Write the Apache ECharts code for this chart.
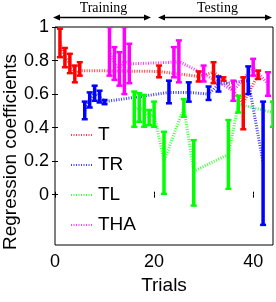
<!DOCTYPE html>
<html>
<head>
<meta charset="utf-8">
<script src="https://cdn.jsdelivr.net/npm/echarts@6/dist/echarts.min.js"></script>
<style>
html, body { margin: 0; padding: 0; background: #fff; }
#main { width: 276px; height: 302px; }
</style>
</head>
<body>
<div id="main"></div>
<script>
// T
var tX = [1, 2, 3, 4, 5, 21, 29, 32, 34, 38, 41];
var tMean = [0.905, 0.82, 0.78, 0.72, 0.74, 0.735, 0.705, 0.73, 0.69, 0.545, 0.715];
var tLo = [0.82, 0.76, 0.725, 0.67, 0.71, 0.70, 0.675, 0.665, 0.68, 0.39, 0.69];
var tHi = [0.99, 0.875, 0.84, 0.77, 0.79, 0.77, 0.735, 0.79, 0.70, 0.70, 0.74];
// TR
var trX = [6, 7, 8, 9, 10, 23, 27, 31, 33, 39, 42];
var trMean = [0.50, 0.565, 0.605, 0.585, 0.555, 0.61, 0.61, 0.60, 0.66, 0.68, 0.19];
var trLo = [0.45, 0.52, 0.56, 0.55, 0.54, 0.545, 0.555, 0.565, 0.615, 0.60, -0.18];
var trHi = [0.555, 0.61, 0.65, 0.62, 0.565, 0.68, 0.67, 0.645, 0.705, 0.765, 0.555];
// TL
var tlX = [16, 17, 18, 19, 20, 22, 26, 28, 35, 37, 44];
var tlMean = [0.51, 0.52, 0.50, 0.46, 0.48, 0.20, 0.52, 0.14, 0.24, 0.54, 0.49];
var tlLo = [0.405, 0.435, 0.405, 0.415, 0.405, 0.005, 0.465, -0.065, 0.035, 0.49, 0.405];
var tlHi = [0.615, 0.605, 0.595, 0.505, 0.555, 0.375, 0.57, 0.325, 0.445, 0.59, 0.555];
// THA
var thaX = [11, 12, 13, 14, 15, 24, 25, 30, 36, 40, 43];
var thaMean = [0.855, 0.78, 0.75, 0.80, 0.78, 0.79, 0.795, 0.72, 0.62, 0.76, 0.66];
var thaLo = [0.71, 0.685, 0.65, 0.60, 0.665, 0.70, 0.67, 0.675, 0.56, 0.71, 0.59];
var thaHi = [1.0, 0.88, 0.85, 1.0, 0.90, 0.88, 0.92, 0.77, 0.68, 0.81, 0.73];

var xTicks = [0, 20, 40];
var yTicks = [0, 0.2, 0.4, 0.6, 0.8, 1];

var groups = [
	{ name: 'T', color: '#ff0000', x: tX, mean: tMean, lo: tLo, hi: tHi },
	{ name: 'TR', color: '#0000ff', x: trX, mean: trMean, lo: trLo, hi: trHi },
	{ name: 'TL', color: '#00ff00', x: tlX, mean: tlMean, lo: tlLo, hi: tlHi },
	{ name: 'THA', color: '#ff00ff', x: thaX, mean: thaMean, lo: thaLo, hi: thaHi }
];

var font = '"Liberation Sans", Arial, sans-serif';
var series = [];
// 均值虚线
groups.forEach(function(g) {
	var pts = [];
	for (var i = 0; i < g.x.length; i++) pts.push([g.x[i], g.mean[i]]);
	series.push({
		name: g.name,
		type: 'line',
		data: pts,
		symbol: 'none',
		z: 2,
		color: g.color,
		lineStyle: { color: g.color, width: 3, type: [1, 1.5], opacity: 0.75 }
	});
});
// 误差棒
groups.forEach(function(g) {
	var d = [];
	for (var i = 0; i < g.x.length; i++) d.push([g.x[i], g.lo[i], g.hi[i]]);
	series.push({
		name: g.name + '_err',
		type: 'custom',
		z: 3,
		silent: true,
		clip: true,
		data: d,
		encode: { x: 0, y: [1, 2] },
		renderItem: function(params, api) {
			var a = api.coord([api.value(0), api.value(1)]);
			var b = api.coord([api.value(0), api.value(2)]);
			return {
				type: 'group',
				children: [
					{ type: 'line', shape: { x1: a[0], y1: a[1], x2: b[0], y2: b[1] }, style: { stroke: g.color, lineWidth: 3.5 } },
					{ type: 'line', shape: { x1: a[0] - 3, y1: a[1], x2: a[0] + 3, y2: a[1] }, style: { stroke: g.color, lineWidth: 2.5 } },
					{ type: 'line', shape: { x1: b[0] - 3, y1: b[1], x2: b[0] + 3, y2: b[1] }, style: { stroke: g.color, lineWidth: 2.5 } }
				]
			};
		}
	});
});

var myChart = echarts.init(document.getElementById('main'));
var option = {
	animation: false,
	backgroundColor: '#fff',
	grid: { left: 55, right: 3, top: 27, bottom: 57, show: true, borderColor: '#000', borderWidth: 1 },
	legend: {
		data: ['T', 'TR', 'TL', 'THA'],
		orient: 'vertical',
		left: 70,
		top: 125,
		padding: 0,
		itemWidth: 22,
		itemHeight: 20,
		itemGap: 10,
		itemStyle: { opacity: 0 },
		textStyle: { fontFamily: font, fontSize: 19, color: '#000', lineHeight: 20 }
	},
	xAxis: [{
		type: 'value', min: 0, max: 44,
		name: 'Trials', nameLocation: 'middle', nameGap: 25,
		nameTextStyle: { fontFamily: font, fontSize: 19, color: '#000' },
		axisLine: { show: false },
		splitLine: { show: false },
		axisTick: { inside: true, length: 3, customValues: xTicks, lineStyle: { color: '#000' } },
		axisLabel: { customValues: xTicks, fontFamily: font, fontSize: 18, color: '#000', margin: 8 }
	}, {
		type: 'value', min: 0, max: 44, position: 'top',
		axisLine: { show: false },
		splitLine: { show: false },
		axisTick: { inside: true, length: 3, customValues: xTicks, lineStyle: { color: '#000' } },
		axisLabel: { show: false }
	}],
	yAxis: [{
		type: 'value', min: -0.3, max: 1,
		axisLine: { show: false },
		splitLine: { show: false },
		axisTick: { inside: true, length: 3, customValues: yTicks, lineStyle: { color: '#000' } },
		axisLabel: { customValues: yTicks, fontFamily: font, fontSize: 18, color: '#000', margin: 6 }
	}, {
		type: 'value', min: -0.3, max: 1, position: 'right',
		axisLine: { show: false },
		splitLine: { show: false },
		axisTick: { inside: true, length: 3, customValues: yTicks, lineStyle: { color: '#000' } },
		axisLabel: { show: false }
	}],
	graphic: [
		{ type: 'text', x: 11, y: 152, rotation: Math.PI / 2,
			style: { text: 'Regression coefficients', fontFamily: font, fontSize: 19, fill: '#000', align: 'center', verticalAlign: 'middle' } },
		{ type: 'text', x: 103.5, y: 8,
			style: { text: 'Training', fontFamily: '"Liberation Serif", serif', fontSize: 14, fill: '#000', align: 'center', verticalAlign: 'middle' } },
		{ type: 'text', x: 217.5, y: 8,
			style: { text: 'Testing', fontFamily: '"Liberation Serif", serif', fontSize: 14, fill: '#000', align: 'center', verticalAlign: 'middle' } },
		{ type: 'line', shape: { x1: 58, y1: 17.5, x2: 148, y2: 17.5 }, style: { stroke: '#000', lineWidth: 1.5 } },
		{ type: 'polygon', shape: { points: [[53, 17.5], [60, 14.5], [60, 20.5]] }, style: { fill: '#000' } },
		{ type: 'polygon', shape: { points: [[151, 17.5], [144, 14.5], [144, 20.5]] }, style: { fill: '#000' } },
		{ type: 'line', shape: { x1: 162, y1: 17.5, x2: 269, y2: 17.5 }, style: { stroke: '#000', lineWidth: 1.5 } },
		{ type: 'polygon', shape: { points: [[158, 17.5], [165, 14.5], [165, 20.5]] }, style: { fill: '#000' } },
		{ type: 'polygon', shape: { points: [[272, 17.5], [265, 14.5], [265, 20.5]] }, style: { fill: '#000' } }
	],
	series: series
};
myChart.setOption(option);
</script>
</body>
</html>
